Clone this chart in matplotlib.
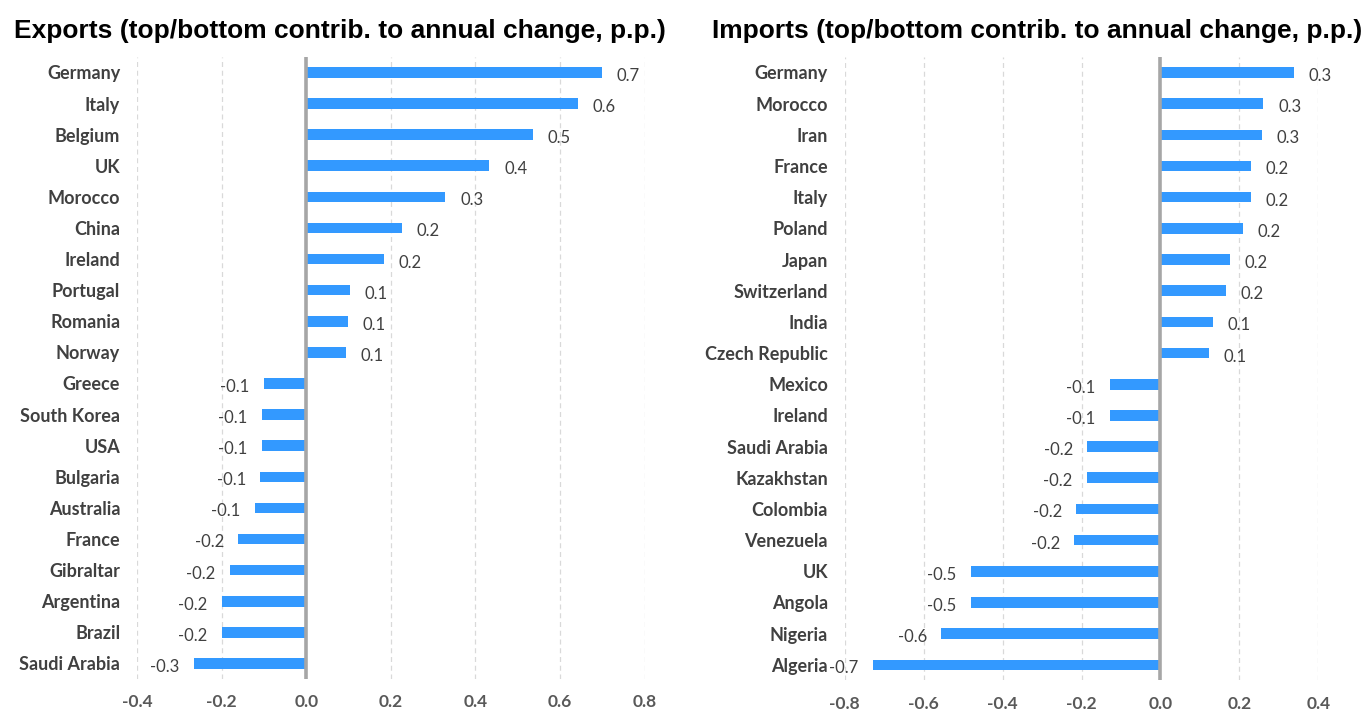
import matplotlib
matplotlib.use("Agg")
import matplotlib.pyplot as plt

exp_countries = ["Germany", "Italy", "Belgium", "UK", "Morocco", "China", "Ireland",
                 "Portugal", "Romania", "Norway", "Greece", "South Korea", "USA",
                 "Bulgaria", "Australia", "France", "Gibraltar", "Argentina", "Brazil",
                 "Saudi Arabia"]
exp_values = [0.699, 0.642, 0.536, 0.433, 0.329, 0.226, 0.184, 0.104, 0.099, 0.094,
              -0.099, -0.104, -0.104, -0.108, -0.122, -0.160, -0.181, -0.200, -0.200,
              -0.266]

imp_countries = ["Germany", "Morocco", "Iran", "France", "Italy", "Poland", "Japan",
                 "Switzerland", "India", "Czech Republic", "Mexico", "Ireland",
                 "Saudi Arabia", "Kazakhstan", "Colombia", "Venezuela", "UK", "Angola",
                 "Nigeria", "Algeria"]
imp_values = [0.339, 0.261, 0.256, 0.230, 0.230, 0.210, 0.177, 0.167, 0.132, 0.122,
              -0.129, -0.129, -0.185, -0.187, -0.213, -0.218, -0.481, -0.481, -0.555,
              -0.729]

exp_ticks = [-0.4, -0.2, 0.0, 0.2, 0.4, 0.6, 0.8]
imp_ticks = [-0.8, -0.6, -0.4, -0.2, 0.0, 0.2, 0.4]

exp_title = "Exports (top/bottom contrib. to annual change, p.p.)"
imp_title = "Imports (top/bottom contrib. to annual change, p.p.)"

BAR = "#3399FF"
TXT = "#404040"
TICK = "#595959"
FONT = ["Lato", "DejaVu Sans"]

fig = plt.figure(figsize=(13.69, 7.11), dpi=100)


def panel(rect, cats, vals, ticks, title, title_x):
    ax = fig.add_axes(rect)
    y = list(range(len(cats)))
    ax.barh(y, vals, height=0.34, color=BAR, zorder=2)
    ax.set_ylim(len(cats) - 0.5, -0.5)
    ax.set_xlim(ticks[0], ticks[-1])
    ax.set_xticks(ticks)
    ax.set_xticklabels([f"{t:.1f}" for t in ticks], fontsize=12.5, fontweight="bold",
                       color=TICK, family=FONT)
    ax.set_yticks(y)
    ax.set_yticklabels(cats, fontsize=13, fontweight="bold", color=TXT, family=FONT)
    ax.tick_params(axis="both", length=0)
    ax.tick_params(axis="x", pad=11)
    ax.tick_params(axis="y", pad=12)
    for s in ax.spines.values():
        s.set_visible(False)
    for t in ticks:
        if abs(t) > 1e-9:
            ax.axvline(t, color="#D9D9D9", lw=0.9, ls=(0, (4, 3)), zorder=1)
    ax.axvline(0, color="#A6A6A6", lw=2.6, zorder=3)
    for yi, v in zip(y, vals):
        off = 10.5 if v >= 0 else -10.5
        ax.annotate(f"{v:.1f}", xy=(v, yi), xytext=(off, -2.5), textcoords="offset points",
                    ha="left" if v >= 0 else "right", va="center", fontsize=12,
                    color=TXT, family=FONT)
    fig.text(title_x, 0.956, title, ha="center", va="center", fontsize=19,
             fontweight="bold", family=["Liberation Sans", "DejaVu Sans"], color="black")
    return ax


panel([0.1, 0.045, 0.371, 0.875], exp_countries, exp_values, exp_ticks, exp_title,
      340 / 1369)
panel([0.617, 0.043, 0.346, 0.877], imp_countries, imp_values, imp_ticks, imp_title,
      1037 / 1369)

fig.savefig("out.png", dpi=100)
